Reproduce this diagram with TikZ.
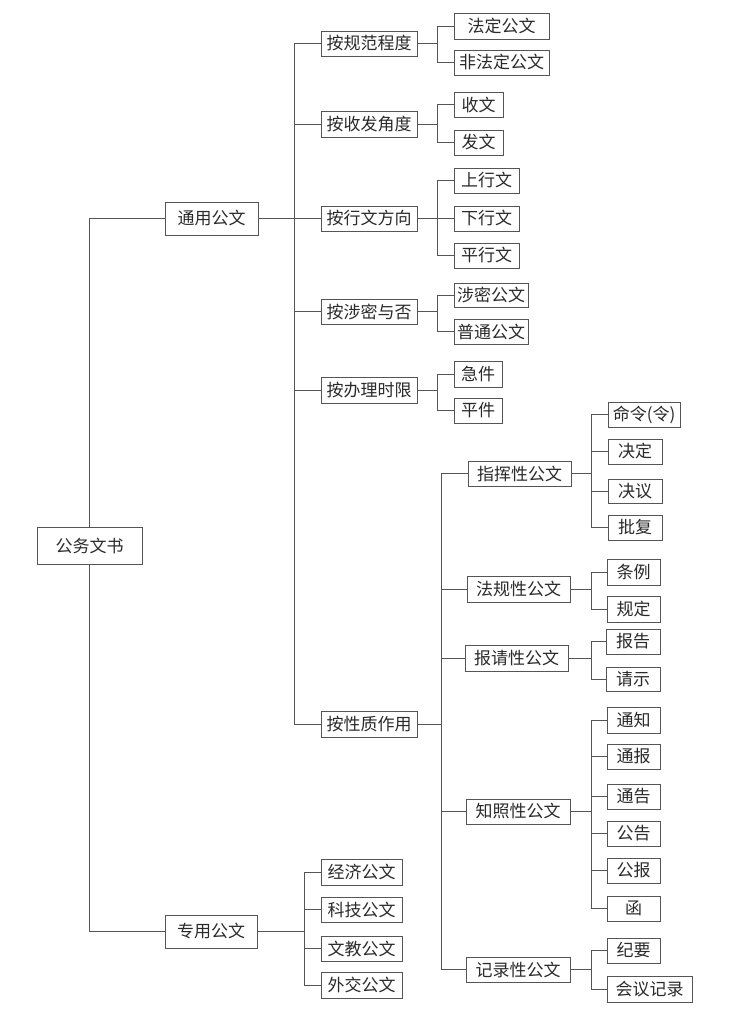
\documentclass[tikz,border=0pt]{standalone}
\usepackage{fontspec}
\newfontfamily\cjk{Noto Sans CJK SC}
\definecolor{ln}{HTML}{555555}
\definecolor{tx}{HTML}{2A2A2A}
\tikzset{
  box/.style={draw=ln, line width=0.9pt, fill=white, inner sep=0pt, text=tx,
    font=\cjk\fontsize{17}{17}\selectfont},
  conn/.style={draw=ln, line width=0.9pt}
}
\newcommand\bx[6]{\node[box, minimum width={#4-#2}, minimum height={#5-#3}] (#1) at ({(#2+#4)/2},{(#3+#5)/2}) {#6};}
\begin{document}
\begin{tikzpicture}[x=1pt,y=-1pt]
\useasboundingbox (0,0) rectangle (748,1014);
% bracket x positions
\coordinate (m1) at (294,0);
\coordinate (ma) at (437,0);
\coordinate (mb) at (441,0);
\coordinate (mc) at (591,0);
\coordinate (mz) at (304,0);
% nodes
\bx{root}{37}{527}{142}{564}{公务文书}
\bx{ty}{165}{202}{258}{235}{通用公文}
\bx{zy}{165}{915}{257}{948}{专用公文}
\bx{a1}{321}{31}{417}{56}{按规范程度}
\bx{a2}{321}{111}{417}{137}{按收发角度}
\bx{a3}{321}{206}{417}{231}{按行文方向}
\bx{a4}{321}{299}{417}{324}{按涉密与否}
\bx{a5}{321}{377}{417}{403}{按办理时限}
\bx{a6}{321}{711}{417}{737}{按性质作用}
\bx{a1c1}{454}{13}{549}{39}{法定公文}
\bx{a1c2}{454}{50}{549}{75}{非法定公文}
\bx{a2c1}{454}{92}{503}{117}{收文}
\bx{a2c2}{454}{130}{503}{155}{发文}
\bx{a3c1}{454}{168}{519}{193}{上行文}
\bx{a3c2}{454}{206}{519}{231}{下行文}
\bx{a3c3}{454}{243}{519}{268}{平行文}
\bx{a4c1}{454}{283}{528}{307}{涉密公文}
\bx{a4c2}{454}{319}{528}{344}{普通公文}
\bx{a5c1}{454}{361}{502}{387}{急件}
\bx{a5c2}{454}{398}{502}{423}{平件}
\bx{b1}{468}{461}{571}{486}{指挥性公文}
\bx{b2}{467}{576}{570}{602}{法规性公文}
\bx{b3}{465}{645}{568}{671}{报请性公文}
\bx{b4}{466}{799}{570}{824}{知照性公文}
\bx{b5}{466}{957}{570}{982}{记录性公文}
\bx{b1c1}{608}{402}{680}{427}{命令(令)}
\bx{b1c2}{608}{439}{662}{464}{决定}
\bx{b1c3}{608}{479}{662}{503}{决议}
\bx{b1c4}{608}{515}{662}{540}{批复}
\bx{b2c1}{607}{559}{660}{585}{条例}
\bx{b2c2}{607}{596}{660}{622}{规定}
\bx{b3c1}{606}{629}{660}{654}{报告}
\bx{b3c2}{606}{667}{660}{691}{请示}
\bx{b4c1}{607}{707}{660}{733}{通知}
\bx{b4c2}{607}{744}{660}{769}{通报}
\bx{b4c3}{607}{784}{660}{809}{通告}
\bx{b4c4}{607}{821}{660}{846}{公告}
\bx{b4c5}{607}{858}{660}{883}{公报}
\bx{b4c6}{607}{896}{660}{921}{函}
\bx{b5c1}{607}{938}{660}{963}{纪要}
\bx{b5c2}{607}{976}{692}{1002}{会议记录}
\bx{z1}{321}{859}{402}{885}{经济公文}
\bx{z2}{321}{897}{402}{922}{科技公文}
\bx{z3}{321}{936}{402}{961}{文教公文}
\bx{z4}{321}{972}{402}{998}{外交公文}
% connectors
\draw[conn] (root.north) |- (ty.west);
\draw[conn] (root.south) |- (zy.west);
\foreach \c in {a1,a2,a3,a4,a5,a6} \draw[conn] (ty.east) -- (ty.east -| m1) |- (\c.west);
\foreach \c in {a1c1,a1c2} \draw[conn] (a1.east) -- (a1.east -| ma) |- (\c.west);
\foreach \c in {a2c1,a2c2} \draw[conn] (a2.east) -- (a2.east -| ma) |- (\c.west);
\foreach \c in {a3c1,a3c2,a3c3} \draw[conn] (a3.east) -- (a3.east -| ma) |- (\c.west);
\foreach \c in {a4c1,a4c2} \draw[conn] (a4.east) -- (a4.east -| ma) |- (\c.west);
\foreach \c in {a5c1,a5c2} \draw[conn] (a5.east) -- (a5.east -| ma) |- (\c.west);
\foreach \c in {b1,b2,b3,b4,b5} \draw[conn] (a6.east) -- (a6.east -| mb) |- (\c.west);
\foreach \c in {b1c1,b1c2,b1c3,b1c4} \draw[conn] (b1.east) -- (b1.east -| mc) |- (\c.west);
\foreach \c in {b2c1,b2c2} \draw[conn] (b2.east) -- (b2.east -| mc) |- (\c.west);
\foreach \c in {b3c1,b3c2} \draw[conn] (b3.east) -- (b3.east -| mc) |- (\c.west);
\foreach \c in {b4c1,b4c2,b4c3,b4c4,b4c5,b4c6} \draw[conn] (b4.east) -- (b4.east -| mc) |- (\c.west);
\foreach \c in {b5c1,b5c2} \draw[conn] (b5.east) -- (b5.east -| mc) |- (\c.west);
\foreach \c in {z1,z2,z3,z4} \draw[conn] (zy.east) -- (zy.east -| mz) |- (\c.west);
\end{tikzpicture}
\end{document}
